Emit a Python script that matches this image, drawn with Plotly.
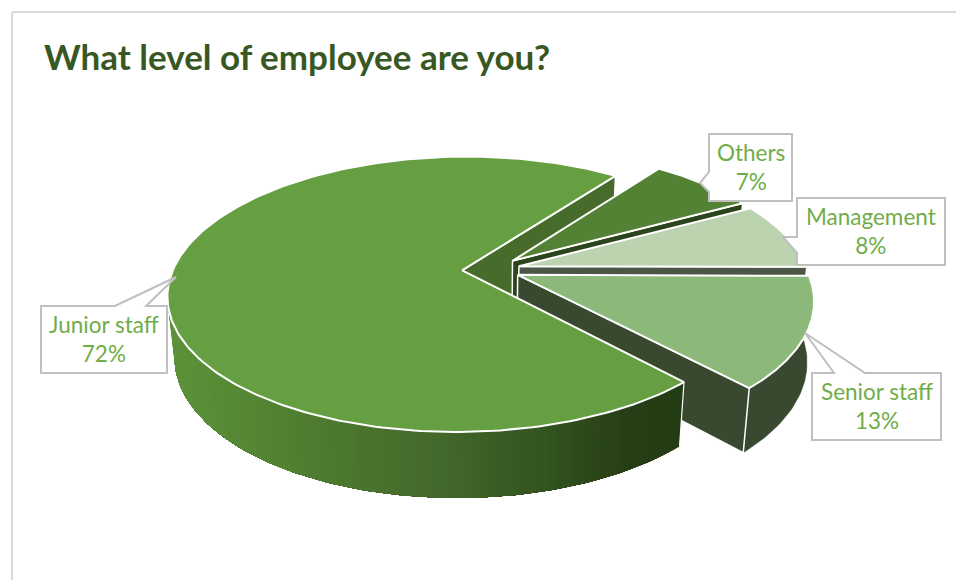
import numpy as np
import plotly.graph_objects as go

# Survey results
categories = ["Junior staff", "Others", "Management", "Senior staff"]
values = [72, 7, 8, 13]
top_colors = ["#669f42", "#548235", "#bcd3af", "#8cb979"]
side_colors = ["#466b2a", "#29451a", "#4b5646", "#38492f"]
title_text = "What level of employee are you?"

# Pie geometry: a tilted disc under a simple perspective projection
CENTER_X, CENTER_Y = 491.0, 269.5
RADIUS, TILT, PERSP = 289.0, 0.461, 0.174
EXPLODE = 0.10
THICKNESS = 60.0
TAPER = 0.00036
START_ANGLE = 47.0

TEXT_COLOR = "#70ad47"
BORDER = "#bfbfbf"


def project(u, v, depth=0.0):
    w = 1.0 / (1.0 - PERSP * v)
    drop = THICKNESS * depth * np.sqrt(w)
    x = CENTER_X + RADIUS * u * w * (1.0 - TAPER * drop)
    y = CENTER_Y + RADIUS * TILT * v * w + drop
    return x, y


def polygon(xs, ys, fill, line=None, width=1.5):
    return go.Scatter(
        x=list(xs), y=list(ys), mode="lines", fill="toself", fillcolor=fill,
        line=dict(color=line or fill, width=width), hoverinfo="skip", showlegend=False,
    )


def edge(xs, ys, color="white", width=1.5):
    return go.Scatter(x=list(xs), y=list(ys), mode="lines", line=dict(color=color, width=width),
                      hoverinfo="skip", showlegend=False)


def blend(stops, x):
    xp = [s[0] for s in stops]
    channels = [np.interp(x, xp, [s[1][i] for s in stops]) for i in range(3)]
    return "rgb({:.0f},{:.0f},{:.0f})".format(*channels)


# Horizontal shading of the large slice's rim
RIM_STOPS = [(170, (92, 146, 57)), (300, (80, 126, 48)), (450, (66, 102, 42)),
             (550, (50, 82, 31)), (630, (38, 62, 21)), (690, (36, 60, 20))]

# Angular extent of every slice, measured clockwise on screen
sweeps = np.array(values) / sum(values) * 360.0
starts = START_ANGLE + np.concatenate([[0], np.cumsum(sweeps)[:-1]])
slices = []
for name, start, sweep, top, side in zip(categories, starts, sweeps, top_colors, side_colors):
    mid = np.radians(start + sweep / 2)
    slices.append(dict(
        name=name, a0=np.radians(start), a1=np.radians(start + sweep),
        du=EXPLODE * np.cos(mid), dv=EXPLODE * np.sin(mid), top=top, side=side,
    ))


def radial_wall(s, angle):
    ue, ve = s["du"] + np.cos(angle), s["dv"] + np.sin(angle)
    x0, y0 = project(s["du"], s["dv"])
    x1, y1 = project(ue, ve)
    x2, y2 = project(ue, ve, 1)
    x3, y3 = project(s["du"], s["dv"], 1)
    return polygon([x0, x1, x2, x3, x0], [y0, y1, y2, y3, y0], s["side"], "white", 1.5)


def rim_band(s, angles):
    xt, yt = project(s["du"] + np.cos(angles), s["dv"] + np.sin(angles))
    xb, yb = project(s["du"] + np.cos(angles), s["dv"] + np.sin(angles), 1)
    return np.r_[xt, xb[::-1]], np.r_[yt, yb[::-1]], xt


def outer_wall(s, a0, a1, shaded=False):
    angles = np.linspace(a0, a1, 111 if shaded else 41)
    if not shaded:
        xs, ys, _ = rim_band(s, angles)
        return [polygon(xs, ys, s["side"], None, 0.5)]
    # Each band reaches to the far end of the rim and is overpainted by the next,
    # which keeps hairline seams out of the gradient.
    traces = []
    for i in range(len(angles) - 1):
        xs, ys, xt = rim_band(s, angles[i:])
        traces.append(go.Scatter(
            x=list(xs), y=list(ys), mode="lines", fill="toself",
            fillcolor=blend(RIM_STOPS, (xt[0] + xt[1]) / 2),
            line=dict(width=0), hoverinfo="skip", showlegend=False,
        ))
    return traces


def top_face(s):
    t = np.linspace(s["a0"], s["a1"], 240)
    xa, ya = project(s["du"] + np.cos(t), s["dv"] + np.sin(t))
    xc, yc = project(s["du"], s["dv"])
    return polygon(np.r_[xc, xa, xc], np.r_[yc, ya, yc], s["top"], "white", 2)


junior, others, management, senior = slices
traces = []

# Painted from back to front: the hidden faces are covered by what follows
traces.append(radial_wall(junior, junior["a1"]))
traces.append(radial_wall(others, others["a1"]))
traces.append(top_face(others))
traces.append(radial_wall(management, management["a1"]))
traces.append(top_face(management))
traces.extend(outer_wall(senior, senior["a0"], senior["a1"]))
traces.append(radial_wall(senior, senior["a1"]))
traces.append(top_face(senior))
traces.extend(outer_wall(junior, junior["a0"], np.radians(190), shaded=True))

# Corner line where the large slice's rim ends
ue, ve = junior["du"] + np.cos(junior["a0"]), junior["dv"] + np.sin(junior["a0"])
cx0, cy0 = project(ue, ve)
cx1, cy1 = project(ue, ve, 1)
traces.append(edge([cx0, cx1], [cy0, cy1], "white", 1.2))
traces.append(top_face(junior))

fig = go.Figure(traces)

# Callout frames as (box, pointer) outlines
callouts = [
    ("Junior staff", (41, 306, 167, 373), "M115,306 L176,277 L146,306"),
    ("Others", (709, 134, 792, 201), "M709,172 L700,183 L709,192"),
    ("Management", (797, 198, 945, 265), "M797,237 L783,237 L797,253"),
    ("Senior staff", (812, 373, 941, 440), "M834,373 L805,333 L865,373"),
]
shapes = [
    dict(type="line", x0=12, x1=956, y0=12, y1=12, xref="x", yref="y",
         line=dict(color="#d9d9d9", width=2)),
    dict(type="line", x0=12, x1=12, y0=12, y1=580, xref="x", yref="y",
         line=dict(color="#d9d9d9", width=2)),
]
annotations = [
    dict(text=f"<b>{title_text}</b>", x=42, y=56, xref="x", yref="y", xanchor="left", yanchor="middle",
         showarrow=False, font=dict(family="Lato", size=35, color="#385723")),
]
for (name, (l, t, r, b), pointer) in callouts:
    tip = pointer.split()
    first = tip[0][1:].split(",")
    last = tip[2][1:].split(",")
    mid = tip[1][1:].split(",")
    if float(first[1]) == t:  # pointer leaves through the top side
        path = f"M{l},{t} L{first[0]},{t} L{mid[0]},{mid[1]} L{last[0]},{t} L{r},{t} L{r},{b} L{l},{b} Z"
    else:  # pointer leaves through the left side
        path = f"M{l},{t} L{r},{t} L{r},{b} L{l},{b} L{l},{last[1]} L{mid[0]},{mid[1]} L{l},{first[1]} Z"
    shapes.append(dict(type="path", path=path, xref="x", yref="y", fillcolor="white",
                       line=dict(color=BORDER, width=2)))
    value = values[categories.index(name)]
    annotations.append(dict(
        text=f"{name}<br>{value}%", x=(l + r) / 2, y=(t + b) / 2 - 0.5, xref="x", yref="y",
        xanchor="center", yanchor="middle", showarrow=False, align="center",
        font=dict(family="Lato", size=22.5, color=TEXT_COLOR),
    ))

fig.update_layout(
    width=956, height=580, autosize=False,
    margin=dict(l=0, r=0, t=0, b=0),
    paper_bgcolor="white", plot_bgcolor="white", showlegend=False,
    xaxis=dict(range=[0, 956], visible=False, fixedrange=True),
    yaxis=dict(range=[580, 0], visible=False, fixedrange=True),
    shapes=shapes, annotations=annotations,
)
fig.write_html("out.html", config=dict(displayModeBar=False))
